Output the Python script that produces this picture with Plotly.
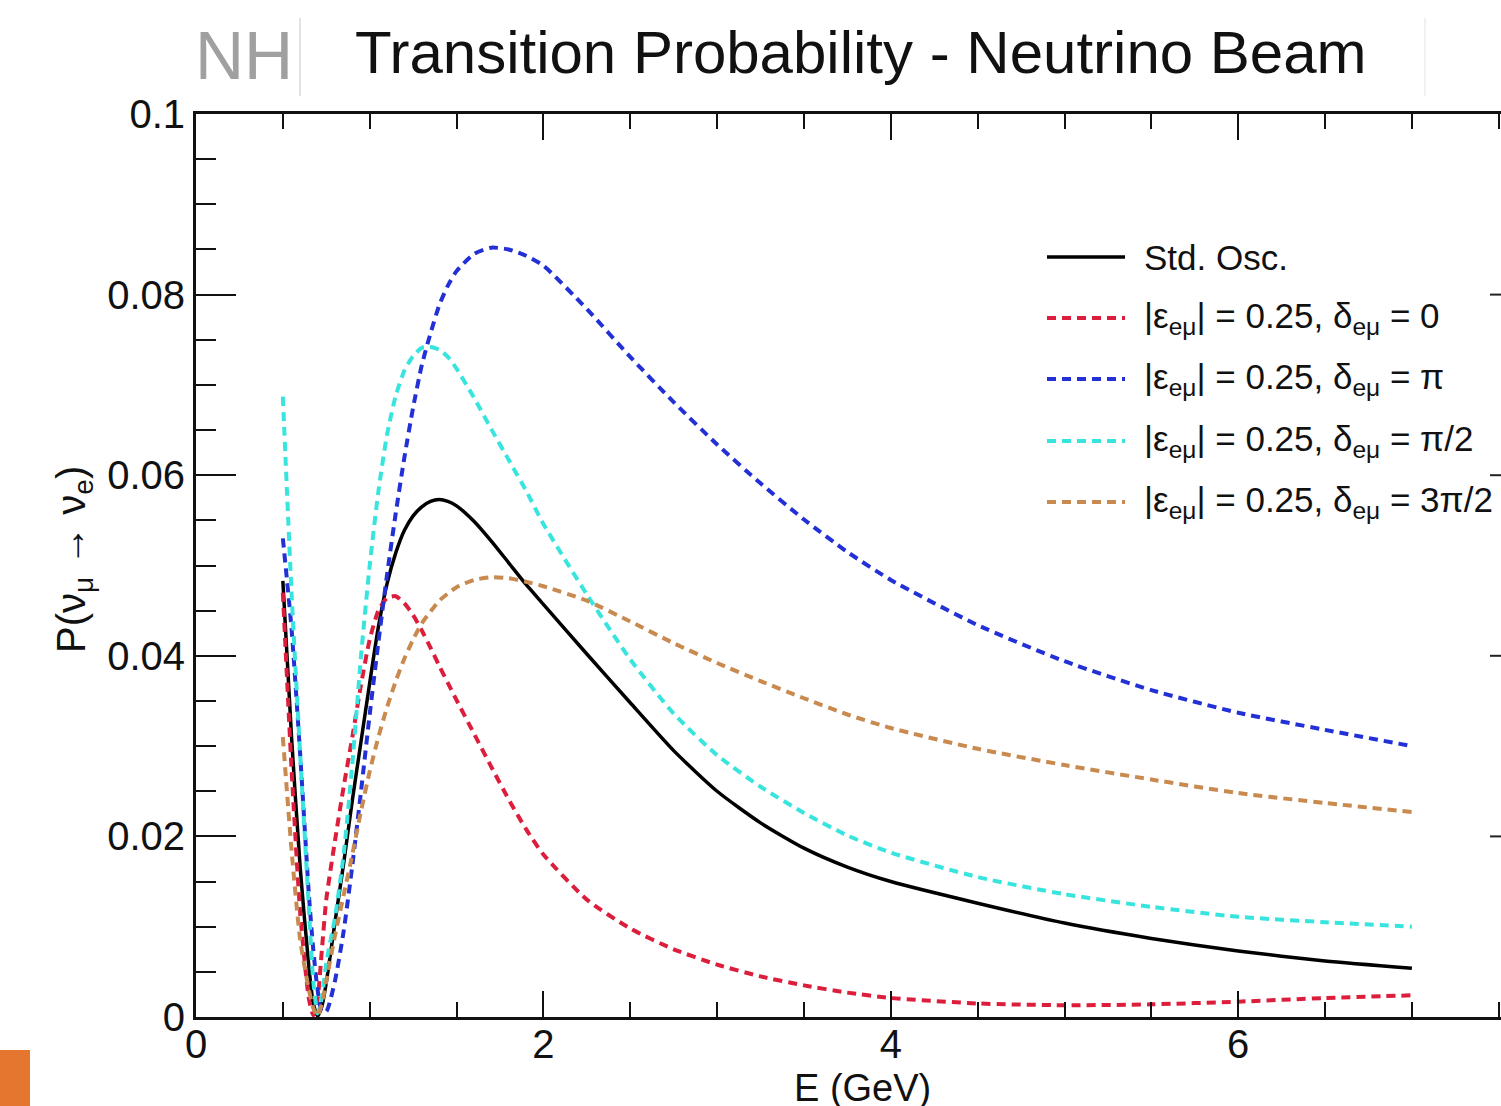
import plotly.graph_objects as go

# ---------------- data ----------------
energy = [0.5, 0.55, 0.6, 0.65, 0.675, 0.7, 0.725, 0.75, 0.8, 0.85, 0.9, 0.95,
          1.0, 1.05, 1.1, 1.15, 1.2, 1.25, 1.3, 1.35, 1.4, 1.45, 1.5, 1.6, 1.7, 1.8, 1.9, 2.0,
          2.25, 2.5, 2.75, 3.0, 3.25, 3.5, 3.75, 4.0, 4.5, 5.0, 5.5, 6.0, 6.5, 7.0]

p_std = [0.0483, 0.031, 0.0165, 0.0055, 0.0015, 0.0001, 0.0012, 0.0038, 0.0105, 0.017, 0.0240, 0.0305,
         0.0370, 0.0432, 0.0480, 0.0514, 0.0539, 0.0555, 0.0565, 0.0571, 0.0573, 0.0571, 0.0566, 0.0549, 0.0527, 0.0503, 0.0479, 0.0457,
         0.0402, 0.0348, 0.0295, 0.0250, 0.0215, 0.0187, 0.0166, 0.0150, 0.0126, 0.0104, 0.0087, 0.0073, 0.0062, 0.0054]

p_d0 = [0.047, 0.0275, 0.0115, 0.002, 0.0002, 0.0020, 0.0075, 0.0130, 0.0195, 0.0255, 0.031, 0.0368,
        0.0418, 0.0450, 0.0464, 0.0466, 0.0458, 0.0445, 0.0428, 0.0409, 0.0389, 0.0370, 0.0351, 0.0314, 0.0277, 0.0241, 0.0208, 0.0180,
        0.0130, 0.0098, 0.0075, 0.0058, 0.0045, 0.0035, 0.0027, 0.0021, 0.0015, 0.0013, 0.0014, 0.0017, 0.0021, 0.0024]

p_dpi = [0.053, 0.043, 0.029, 0.0135, 0.0075, 0.003, 0.0006, 0.0006, 0.004, 0.0095, 0.0168, 0.0250,
         0.0335, 0.0415, 0.0490, 0.0558, 0.0620, 0.0675, 0.0722, 0.0757, 0.0788, 0.0810, 0.0826, 0.0845, 0.0852, 0.0850, 0.0843, 0.0832,
         0.0784, 0.0731, 0.0681, 0.0634, 0.0591, 0.0551, 0.0515, 0.0484, 0.0434, 0.0394, 0.0362, 0.0337, 0.0318, 0.0300]

p_dpi2 = [0.0687, 0.047, 0.029, 0.012, 0.004, 0.0004, 0.0022, 0.0060, 0.0110, 0.018, 0.028, 0.040,
          0.0500, 0.0582, 0.0645, 0.0688, 0.0716, 0.0732, 0.0741, 0.0742, 0.0739, 0.0731, 0.0718, 0.0686, 0.0651, 0.0617, 0.0583, 0.0546,
          0.0468, 0.0396, 0.0336, 0.0290, 0.0255, 0.0226, 0.0201, 0.0182, 0.0155, 0.0136, 0.0122, 0.0111, 0.0105, 0.0100]

p_d3pi2 = [0.031, 0.0185, 0.0085, 0.003, 0.001, 0.0001, 0.0015, 0.004, 0.009, 0.0135, 0.018, 0.0228,
           0.0272, 0.0310, 0.0343, 0.0372, 0.0397, 0.0418, 0.0436, 0.0449, 0.0461, 0.0469, 0.0476, 0.0484, 0.0487, 0.0486, 0.0482, 0.0477,
           0.0461, 0.0438, 0.0414, 0.0392, 0.0372, 0.0353, 0.0335, 0.0320, 0.0297, 0.0279, 0.0263, 0.0248, 0.0237, 0.0227]

series_labels = [
    "Std. Osc.",
    "|ε<sub>eμ</sub>| = 0.25, δ<sub>eμ</sub> = 0",
    "|ε<sub>eμ</sub>| = 0.25, δ<sub>eμ</sub> = π",
    "|ε<sub>eμ</sub>| = 0.25, δ<sub>eμ</sub> = π/2",
    "|ε<sub>eμ</sub>| = 0.25, δ<sub>eμ</sub> = 3π/2",
]
series_values = [p_std, p_d0, p_dpi, p_dpi2, p_d3pi2]

x_ticks = [0, 2, 4, 6]
y_ticks = [0, 0.02, 0.04, 0.06, 0.08, 0.1]
y_tick_text = ["0", "0.02", "0.04", "0.06", "0.08", "0.1"]

# ---------------- style ----------------
colors = ["#000000", "#dc1e3c", "#2230d6", "#38e4de", "#c98a50"]
dashes = ["solid", "9px,6px", "9px,6px", "9px,6px", "9px,6px"]
widths = [3.5, 4, 4, 4, 4]

W, H = 1501, 1106
L, R, T, B = 196, 0, 114, 89
PW, PH = W - L - R, H - T - B
X_PER_PX = 1.0 / 173.7
FONT = "Liberation Sans, Arial, Helvetica, sans-serif"


def px(xp):
    return (xp - L) / PW


def py(yp):
    return (T + PH - yp) / PH


fig = go.Figure()
for lab, vals, c, d, w in zip(series_labels, series_values, colors, dashes, widths):
    fig.add_trace(go.Scatter(
        x=energy, y=vals, mode="lines", name=lab, showlegend=False,
        line=dict(color=c, dash=d, width=w, shape="spline", smoothing=0.6),
    ))

# manual legend (long line samples as in the reference)
leg_rows = [257, 318, 379, 441, 502]
shapes = []
annotations = []
for yp, lab, c, d, w in zip(leg_rows, series_labels, colors, dashes, widths):
    shapes.append(dict(type="line", xref="paper", yref="paper",
                       x0=px(1047), x1=px(1125), y0=py(yp), y1=py(yp),
                       line=dict(color=c, dash=d, width=w)))
    annotations.append(dict(xref="paper", yref="paper", x=px(1142), y=py(yp),
                            xanchor="left", yanchor="middle", showarrow=False,
                            text=lab, font=dict(size=35, color="#111111", family=FONT)))

# right-side tick stubs visible at the cropped edge
for v in y_ticks[1:-1]:
    shapes.append(dict(type="line", xref="paper", yref="y", x0=px(1490), x1=1.0,
                       y0=v, y1=v, line=dict(color="#222222", width=2)))

# faint separators around the title box
shapes.append(dict(type="line", xref="paper", yref="paper", x0=px(300), x1=px(300),
                   y0=py(96), y1=py(18), line=dict(color="#d8d8d8", width=1.5)))
shapes.append(dict(type="line", xref="paper", yref="paper", x0=px(1425), x1=px(1425),
                   y0=py(96), y1=py(18), line=dict(color="#ececec", width=1.5)))
# orange block bottom-left
shapes.append(dict(type="rect", xref="paper", yref="paper", x0=px(0), x1=px(30),
                   y0=py(1106), y1=py(1050), fillcolor="#e5762f", line=dict(width=0)))

annotations += [
    dict(xref="paper", yref="paper", x=px(861), y=py(52), xanchor="center", yanchor="middle",
         showarrow=False, text="Transition Probability - Neutrino Beam",
         font=dict(size=60, color="#111111", family=FONT)),
    dict(xref="paper", yref="paper", x=px(244), y=py(55), xanchor="center", yanchor="middle",
         showarrow=False, text="NH", font=dict(size=68, color="#a0a0a0", family=FONT)),
    dict(xref="paper", yref="paper", x=px(862), y=py(1088), xanchor="center", yanchor="middle",
         showarrow=False, text="E (GeV)", font=dict(size=38, color="#111111", family=FONT)),
    dict(xref="paper", yref="paper", x=px(74), y=py(560), xanchor="center", yanchor="middle",
         showarrow=False, textangle=-90,
         text="P(ν<sub>μ</sub> → ν<sub>e</sub>)", font=dict(size=40, color="#111111", family=FONT)),
]

fig.update_layout(
    width=W, height=H, margin=dict(l=L, r=R, t=T, b=B, pad=0),
    paper_bgcolor="white", plot_bgcolor="white",
    font=dict(family=FONT, color="#111111"),
    shapes=shapes, annotations=annotations, showlegend=False,
)
fig.update_xaxes(
    range=[0, PW * X_PER_PX], tickvals=x_ticks, ticktext=[str(v) for v in x_ticks],
    ticks="inside", ticklen=26, tickwidth=2, tickcolor="#111111",
    showline=True, linewidth=3, linecolor="#111111", mirror="ticks",
    showgrid=False, zeroline=False, ticklabelstandoff=-10,
    tickfont=dict(size=40, family=FONT, color="#111111"),
    minor=dict(dtick=0.5, tick0=0, ticks="inside", ticklen=15, tickwidth=2, tickcolor="#111111", showgrid=False),
)
fig.update_yaxes(
    range=[0, 0.1], tickvals=y_ticks, ticktext=y_tick_text,
    ticks="inside", ticklen=40, tickwidth=2, tickcolor="#111111",
    showline=True, linewidth=3, linecolor="#111111", mirror=False,
    showgrid=False, zeroline=False,
    tickfont=dict(size=40, family=FONT, color="#111111"),
    minor=dict(dtick=0.005, tick0=0, ticks="inside", ticklen=20, tickwidth=2, tickcolor="#111111", showgrid=False),
)

fig.write_html("out.html")
